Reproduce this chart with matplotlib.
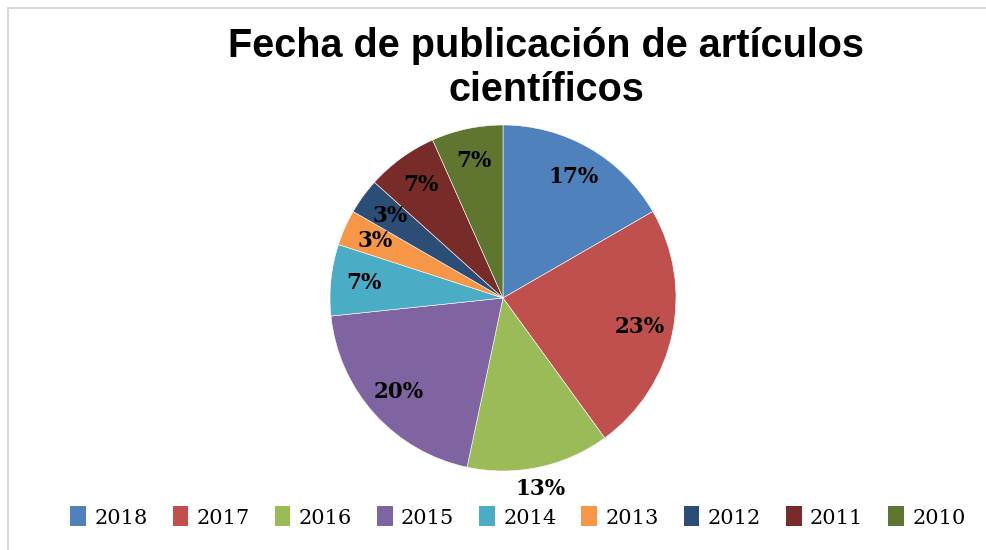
import matplotlib.pyplot as plt
from matplotlib.lines import Line2D
from matplotlib.patches import Patch
import numpy as np

# articles per year (30 in total)
years = ["2018", "2017", "2016", "2015", "2014", "2013", "2012", "2011", "2010"]
counts = [5, 7, 4, 6, 2, 1, 1, 2, 2]
colors = ["#4F81BD", "#C0504D", "#9BBB59", "#8064A2", "#4BACC6",
          "#F79646", "#2C4D75", "#772C2A", "#5F7530"]
title = "Fecha de publicación de artículos\ncientíficos"

W, H = 986, 550
fig = plt.figure(figsize=(W / 100, H / 100), dpi=100)

# gray chart-area border (only top and left show in the reference)
fig.add_artist(Line2D([7.5 / W, 7.5 / W], [0, 1 - 8 / H], color="#d9d9d9", lw=1.5))
fig.add_artist(Line2D([7.5 / W, 1], [1 - 8 / H, 1 - 8 / H], color="#d9d9d9", lw=1.5))

cx, cy, r = 503, 298, 173
ax = fig.add_axes([(cx - r) / W, (H - cy - r) / H, 2 * r / W, 2 * r / H])

wedges, texts, autotexts = ax.pie(
    counts, colors=colors, startangle=90, counterclock=False,
    autopct=lambda p: f"{p:.0f}%", pctdistance=0.81,
    wedgeprops=dict(edgecolor="white", linewidth=0.4),
    textprops=dict(family="DejaVu Serif", fontweight="bold", fontsize=15.5, color="black"))
ax.set_xlim(-1, 1)
ax.set_ylim(-1, 1)
ax.set_aspect("equal")
ax.axis("off")

# Excel "best fit": the 2016 label sits just outside the pie
w = wedges[2]
ang = np.deg2rad((w.theta1 + w.theta2) / 2)
autotexts[2].set_position((1.13 * np.cos(ang) - 0.02, 1.13 * np.sin(ang)))

fig.text(546 / W, 1 - 68 / H, title, ha="center", va="center",
         family="Liberation Sans", fontweight="bold", fontsize=28.5, linespacing=1.2)

handles = [Patch(facecolor=c, edgecolor="none") for c in colors]
fig.legend(handles, years, loc="center", bbox_to_anchor=(518 / W, 1 - 517 / H),
           ncol=len(years), frameon=False, handlelength=0.75, handleheight=1.1,
           handletextpad=0.4, columnspacing=1.2,
           prop=dict(family="DejaVu Serif", size=15))

fig.savefig("out.png", dpi=100)
